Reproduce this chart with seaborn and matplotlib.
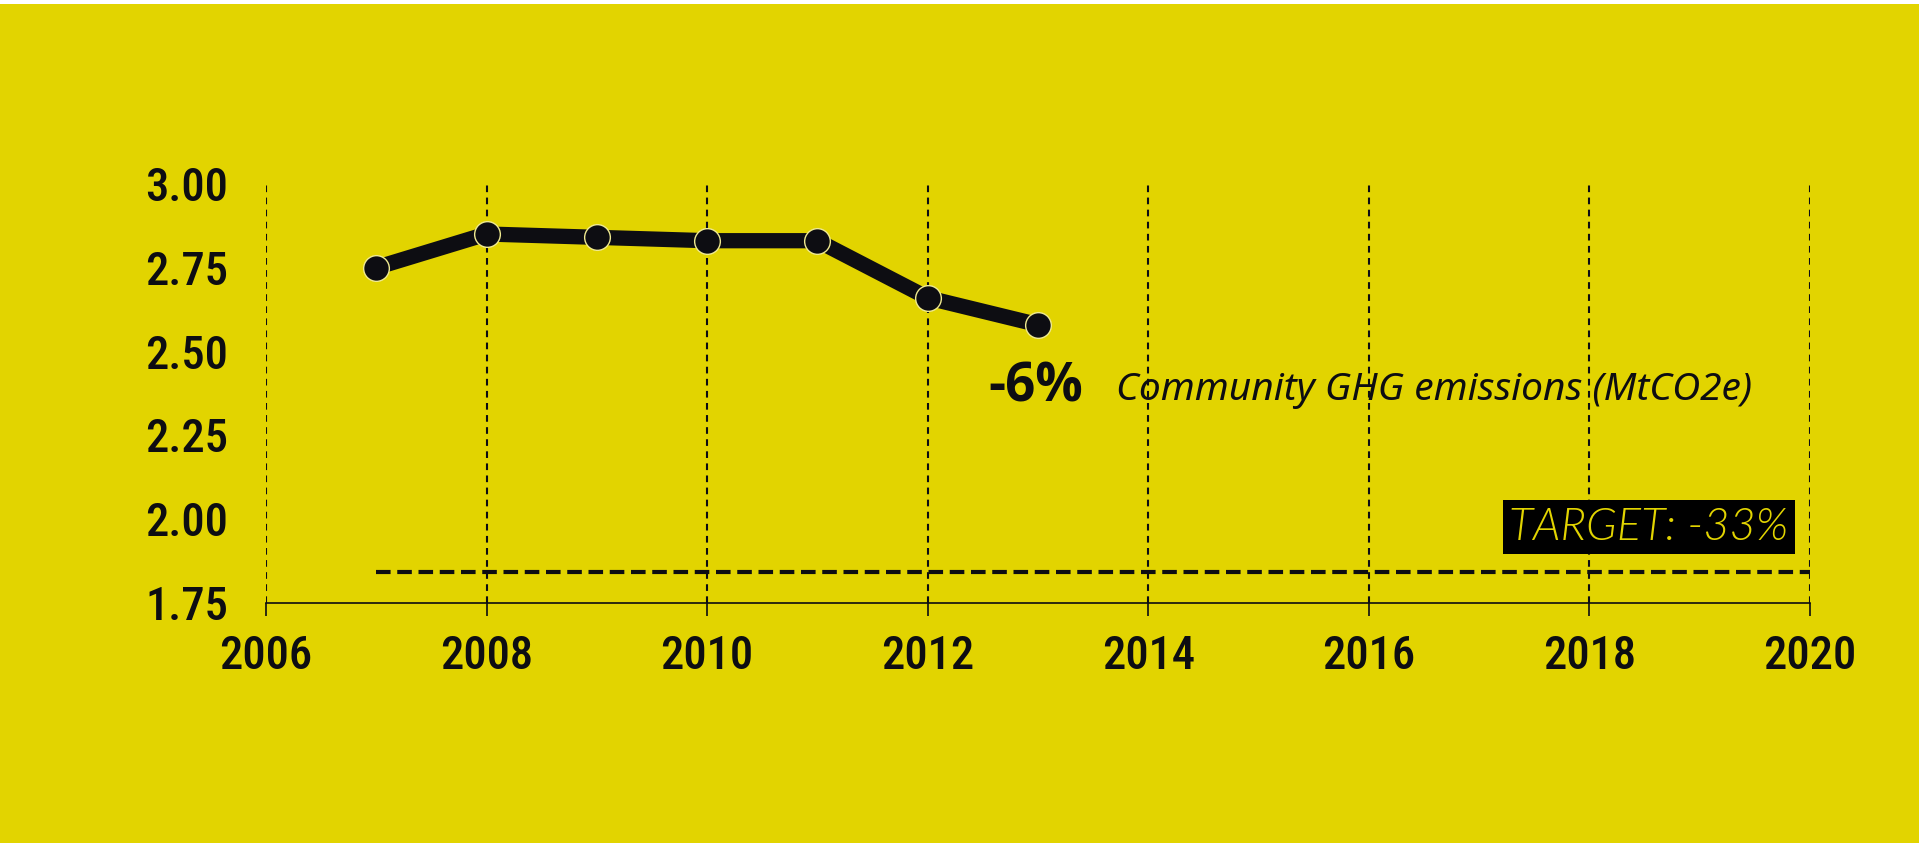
import matplotlib
matplotlib.use("Agg")
import matplotlib.pyplot as plt
import seaborn as sns
import pandas as pd
from matplotlib.patches import Rectangle

years = [2007, 2008, 2009, 2010, 2011, 2012, 2013]
emissions = [2.75, 2.85, 2.84, 2.83, 2.83, 2.66, 2.58]
target_years = [2007, 2020]
target_value = 1.845
x_ticks = [2006, 2008, 2010, 2012, 2014, 2016, 2018, 2020]
y_ticks = [1.75, 2.00, 2.25, 2.50, 2.75, 3.00]
change_label = "-6%"
series_label = "Community GHG emissions (MtCO2e)"
target_label = "TARGET: -33%"

BG = "#E2D400"
INK = "#0d0d12"

sns.set_theme(style="white")
plt.rcParams["font.family"] = ["Open Sans", "DejaVu Sans"]

fig = plt.figure(figsize=(19.19, 8.43), dpi=100, facecolor=BG)
ax = fig.add_axes([0.1386, 0.2842, 0.9432 - 0.1386, 0.7822 - 0.2842])
ax.set_facecolor(BG)

df = pd.DataFrame({"year": years, "value": emissions})
tdf = pd.DataFrame({"year": target_years, "value": [target_value] * len(target_years)})

sns.lineplot(data=tdf, x="year", y="value", ax=ax, color=INK, lw=3.0,
             zorder=3).lines[-1].set_dashes((3.5, 1.6))
sns.lineplot(data=df, x="year", y="value", ax=ax, color=INK, lw=11,
             marker="o", markersize=18.5, markerfacecolor=INK,
             markeredgecolor="#f0ea90", markeredgewidth=1.0, zorder=4)

ax.set_xlim(2006, 2020)
ax.set_ylim(1.75, 3.00)
ax.set_xticks(x_ticks)
ax.set_yticks(y_ticks)
ax.set_yticklabels([f"{v:.2f}" for v in y_ticks])
ax.set_xlabel("")
ax.set_ylabel("")

ax.xaxis.grid(True, color=INK, lw=1.5, linestyle=(0, (3.2, 2.6)))
ax.yaxis.grid(False)
for s in ["left", "right", "top"]:
    ax.spines[s].set_visible(False)
ax.spines["bottom"].set_color(INK)
ax.spines["bottom"].set_linewidth(1.2)

ax.tick_params(axis="x", direction="out", length=9.5, width=1.2, color=INK,
               pad=13, labelsize=33.5, labelcolor=INK, bottom=True)
ax.tick_params(axis="y", length=0, pad=27, labelsize=33.5, labelcolor=INK)
for lab in ax.get_xticklabels() + ax.get_yticklabels():
    lab.set_fontfamily(["Roboto Condensed", "DejaVu Sans"])
    lab.set_fontweight(500)

ax.text(2012.55, 2.35, change_label, fontsize=38, fontweight="bold",
        color=INK, ha="left", va="baseline", family=["Open Sans", "DejaVu Sans"])
ax.text(2013.71, 2.355, series_label, fontsize=28, style="italic",
        color=INK, ha="left", va="baseline", family=["Noto Sans", "DejaVu Sans"])
ax.text(2018.54, 1.977, target_label, fontsize=32.5, style="italic",
        fontweight=300, color=BG, ha="center", va="center",
        family=["Lato", "DejaVu Sans"],
        bbox=dict(boxstyle="square,pad=0.14", fc="#000000", ec="none"), zorder=5)

fig.patches.append(Rectangle((0, 1 - 4 / 843), 1, 4 / 843, transform=fig.transFigure,
                             fc="white", ec="none", zorder=10))

fig.savefig("out.png", dpi=100, facecolor=BG)
